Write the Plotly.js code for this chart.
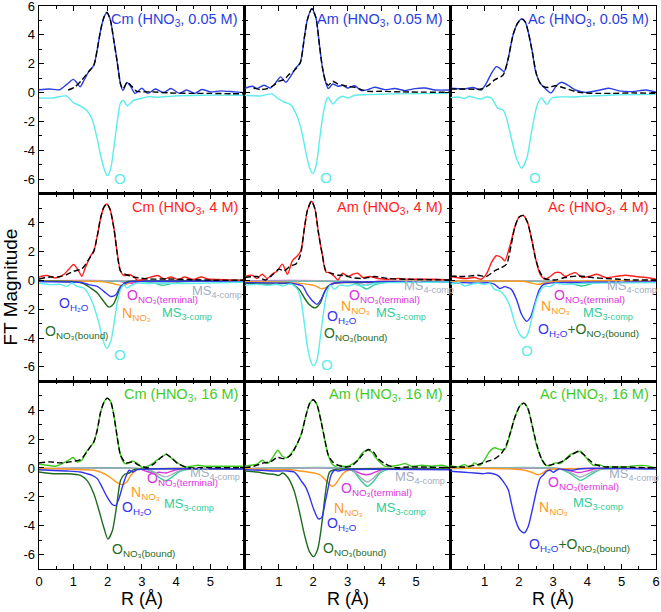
<!DOCTYPE html>
<html><head><meta charset="utf-8">
<script src="https://cdn.plot.ly/plotly-3.0.1.min.js"></script>
<style>html,body{margin:0;padding:0;background:#fff}</style>
</head><body><div id="chart" style="width:661px;height:612px"></div>
<script>
// ---------------- Row 1: HNO3 0.05 M ----------------
const cm005_expR=[0,0.3,0.6,0.8,1.0,1.1,1.2,1.3,1.45,1.6,1.7,1.8,1.9,1.98,2.08,2.18,2.28,2.38,2.45,2.57,2.68,2.8,3.0,3.17,3.4,3.63,3.85,4.1,4.3,4.55,4.75,5.0,5.3,5.7,6.0];
const cm005_exp=[0.2,0.25,0.2,0.55,0.92,0.7,0.4,0.8,1.45,1.9,3.0,4.35,5.25,5.55,5.05,3.65,2.15,0.55,0.15,0.7,0.4,-0.05,0.3,-0.05,0.25,0.0,0.28,-0.05,0.18,-0.05,0.22,0.05,0.12,0.05,0.0];
const cm005_fitR=[0.85,1.05,1.25,1.45,1.6,1.7,1.8,1.9,1.98,2.08,2.18,2.28,2.38,2.45,2.57,2.7,2.85,3.0,3.3,3.8,4.4,5.0,5.6,6.0];
const cm005_fit=[0.18,0.4,0.87,1.45,1.9,3.0,4.35,5.25,5.55,5.05,3.65,2.15,0.6,0.25,0.72,0.45,0.08,0.05,0.05,-0.02,-0.05,-0.05,-0.08,-0.08];
const cm005_OR=[0,0.4,0.8,1.0,1.2,1.4,1.55,1.7,1.8,1.9,2.0,2.09,2.19,2.28,2.38,2.46,2.58,2.73,2.87,3.02,3.22,3.46,3.95,4.74,6.0];
const cm005_O=[-0.37,-0.37,-0.23,-0.69,-0.92,-1.26,-1.84,-3.22,-4.37,-5.29,-5.75,-5.29,-3.68,-2.07,-0.69,-0.55,-0.92,-0.57,-0.46,-0.37,-0.28,-0.32,-0.23,-0.18,-0.18];

const am005_expR=[0,0.22,0.36,0.56,0.75,0.9,1.05,1.2,1.34,1.49,1.62,1.74,1.83,1.96,2.08,2.18,2.27,2.37,2.44,2.57,2.72,2.86,3.01,3.21,3.4,3.6,3.79,4.09,4.38,4.68,4.97,5.26,5.56,6.0];
const am005_exp=[0.28,0.44,0.28,0.51,0.32,0.67,1.09,0.72,1.13,1.71,2.06,3.79,5.06,5.82,5.17,3.33,1.71,0.67,0.28,0.6,0.44,0.51,0.32,0.48,0.14,0.21,0.37,0.21,0.28,0.14,0.28,0.32,0.18,0.18];
const am005_fitR=[0.26,0.46,0.66,0.85,1.0,1.15,1.29,1.44,1.62,1.74,1.83,1.96,2.08,2.18,2.27,2.37,2.44,2.57,2.72,2.86,3.01,3.21,3.4,3.6,3.99,4.58,6.0];
const am005_fit=[0.32,0.21,0.28,0.51,0.79,0.9,1.25,1.52,2.06,3.79,5.06,5.82,5.17,3.33,1.71,0.7,0.51,0.79,0.6,0.51,0.44,0.37,0.21,0.09,0.09,0.05,0.02];
const am005_OR=[0,0.46,0.8,0.95,1.15,1.34,1.49,1.64,1.78,1.88,1.98,2.08,2.18,2.27,2.37,2.44,2.57,2.72,2.86,3.01,3.21,3.6,4.28,6.0];
const am005_O=[-0.18,-0.23,-0.09,-0.37,-0.65,-0.83,-1.41,-2.45,-4.06,-5.1,-5.61,-5.1,-3.37,-1.76,-0.6,-0.32,-0.79,-0.42,-0.25,-0.37,-0.18,-0.14,-0.09,-0.05];

const ac005_expR=[0,0.41,0.66,0.9,1.05,1.2,1.34,1.44,1.57,1.69,1.83,1.96,2.08,2.18,2.27,2.39,2.49,2.62,2.76,2.94,3.11,3.25,3.45,3.65,3.94,4.33,4.63,4.92,5.31,5.71,6.0];
const ac005_exp=[0.3,0.25,0.35,0.18,0.65,1.34,1.8,1.69,1.45,2.38,4.0,4.8,5.1,4.92,4.23,2.84,1.45,0.65,0.3,-0.02,0.53,0.72,0.48,0.18,0.02,0.16,0.3,0.12,0.07,0.18,0.02];
const ac005_fitR=[0,0.41,0.9,1.1,1.29,1.54,1.69,1.83,1.96,2.08,2.18,2.27,2.39,2.52,2.67,2.86,3.06,3.35,3.75,4.24,4.73,5.31,6.0];
const ac005_fit=[0.25,0.25,0.25,0.48,0.88,1.22,2.38,4.0,4.8,5.1,4.92,4.23,2.84,1.22,0.48,0.35,0.48,0.3,0.02,-0.05,-0.05,-0.02,-0.05];
const ac005_OR=[0,0.22,0.41,0.56,0.75,0.9,1.05,1.2,1.39,1.54,1.64,1.78,1.93,2.08,2.23,2.37,2.52,2.65,2.81,2.96,3.16,3.55,3.94,4.73,6.0];
const ac005_O=[-0.35,-0.3,-0.39,-0.25,-0.39,-0.44,-0.3,-0.39,-1.09,-1.2,-1.78,-3.16,-4.55,-5.24,-4.55,-2.7,-0.97,-0.35,-0.81,-0.39,-0.3,-0.3,-0.25,-0.16,-0.12];

// ---------------- Row 2: HNO3 4 M ----------------
const cm4_expR=[0,0.23,0.47,0.72,0.86,1.01,1.16,1.25,1.35,1.5,1.6,1.7,1.79,1.89,1.98,2.07,2.19,2.28,2.38,2.48,2.63,2.77,2.87,3.17,3.46,3.66,3.85,4.05,4.25,4.49,4.74,4.93,5.23,5.72,6.0];
const cm4_exp=[0.23,0.33,0.16,0.4,0.74,1.09,0.63,0.28,0.86,1.67,2.02,3.07,4.23,5.05,5.28,4.93,3.53,1.91,0.63,0.33,0.4,0.23,0.0,0.16,0.33,0.09,0.23,0.05,0.23,0.05,0.23,0.09,0.05,0.0,0.0];
const cm4_fitR=[0,0.32,0.57,0.81,1.01,1.25,1.45,1.6,1.7,1.79,1.89,1.98,2.07,2.19,2.28,2.38,2.53,2.77,3.17,3.75,4.34,5.23,6.0];
const cm4_fit=[0.09,0.23,0.23,0.4,0.63,0.79,1.44,2.02,3.07,4.23,5.05,5.28,4.93,3.53,1.91,0.63,0.4,0.23,0.09,0.09,0.05,0.0,0.0];
const cm4_h2oR=[0,0.81,1.21,1.45,1.7,1.89,2.09,2.24,2.38,2.53,2.68,3.26,6.0];
const cm4_h2o=[-0.09,-0.12,-0.14,-0.3,-0.42,-0.77,-1.12,-1.0,-0.42,-0.19,-0.09,-0.07,-0.05];
const cm4_bndR=[0,1.01,1.3,1.5,1.7,1.89,2.04,2.19,2.33,2.48,2.63,3.26,6.0];
const cm4_bnd=[-0.07,-0.09,-0.23,-0.53,-0.88,-1.47,-1.86,-1.58,-0.77,-0.23,-0.07,-0.05,-0.02];
const cm4_nR=[0,1.79,2.09,2.28,2.43,2.58,2.77,3.26,6.0];
const cm4_n=[-0.05,-0.09,-0.19,-0.3,-0.37,-0.23,-0.07,-0.05,-0.02];
const cm4_termR=[0,2.3,2.6,2.75,2.95,3.3,3.6,3.9,6.0];
const cm4_term=[-0.03,-0.05,-0.18,-0.2,-0.08,-0.06,-0.12,-0.05,-0.02];
const cm4_msR=[0,3.0,3.3,3.6,3.9,4.3,6.0];
const cm4_ms3=[-0.08,-0.08,-0.15,-0.35,-0.2,-0.08,-0.05];
const cm4_ms4=[-0.05,-0.05,-0.1,-0.22,-0.12,-0.05,-0.03];
const cm4_OR=[0,0.32,0.62,0.81,0.96,1.11,1.3,1.45,1.6,1.75,1.84,1.97,2.09,2.19,2.28,2.38,2.48,2.56,2.68,2.87,3.17,3.56,3.95,6.0];
const cm4_O=[-0.19,-0.3,-0.28,-0.42,-0.19,-0.42,-0.53,-1.0,-1.81,-2.98,-3.91,-4.72,-4.26,-2.98,-1.58,-0.65,-0.3,-0.53,-0.37,-0.19,-0.23,-0.19,-0.23,-0.14];

const am4_expR=[0,0.22,0.36,0.51,0.66,0.8,0.95,1.1,1.25,1.39,1.54,1.64,1.74,1.83,1.95,2.05,2.15,2.27,2.37,2.47,2.62,2.72,2.86,3.01,3.16,3.3,3.45,3.65,3.89,4.19,4.48,4.77,5.17,5.56,6.0];
const am4_exp=[0.26,0.35,0.12,0.42,0.12,0.42,0.65,1.12,0.42,1.35,1.7,2.05,3.56,4.84,5.47,4.95,3.33,1.7,0.58,0.53,0.26,0.02,0.49,0.26,0.42,0.49,0.19,0.26,0.12,0.07,0.12,0.07,0.07,0.07,0.02];
const am4_fitR=[0,0.36,0.61,0.8,1.0,1.15,1.34,1.49,1.62,1.74,1.83,1.95,2.05,2.15,2.27,2.37,2.52,2.72,2.91,3.11,3.4,3.79,4.19,4.77,6.0];
const am4_fit=[0.19,0.26,0.02,0.35,0.77,0.65,1.0,1.12,1.7,3.56,4.84,5.47,4.95,3.33,1.7,0.65,0.49,0.35,0.35,0.19,0.12,0.26,0.12,0.07,0.02];
const am4_h2oR=[0,1.34,1.54,1.69,1.83,1.98,2.11,2.23,2.37,2.52,2.72,6.0];
const am4_h2o=[-0.16,-0.21,-0.28,-0.4,-0.98,-1.44,-1.67,-1.33,-0.63,-0.28,-0.16,-0.12];
const am4_bndR=[0,0.85,1.34,1.44,1.59,1.74,1.88,2.05,2.21,2.32,2.44,2.57,2.81,6.0];
const am4_bnd=[-0.21,-0.26,-0.21,-0.35,-0.63,-1.21,-1.67,-1.91,-1.56,-0.86,-0.4,-0.23,-0.16,-0.12];
const am4_nR=[0,1.34,1.83,2.03,2.23,2.37,2.52,2.81,3.7,6.0];
const am4_n=[-0.09,-0.16,-0.28,-0.35,-0.58,-0.51,-0.28,-0.16,-0.09,-0.07];
const am4_termR=[0,2.4,2.7,3.0,3.3,3.6,3.9,6.0];
const am4_term=[-0.03,-0.05,-0.15,-0.12,-0.08,-0.18,-0.06,-0.03];
const am4_msR=[0,3.0,3.3,3.55,3.8,4.2,6.0];
const am4_ms3=[-0.1,-0.1,-0.25,-0.6,-0.3,-0.1,-0.08];
const am4_ms4=[-0.05,-0.05,-0.15,-0.35,-0.15,-0.05,-0.05];
const am4_OR=[0,0.36,0.66,0.95,1.1,1.25,1.39,1.54,1.64,1.74,1.83,1.93,2.01,2.11,2.21,2.3,2.4,2.5,2.62,2.76,3.01,3.21,3.4,3.79,4.28,6.0];
const am4_O=[-0.35,-0.28,-0.35,-0.28,-0.4,-0.28,-0.28,-0.63,-1.33,-2.95,-4.58,-5.63,-5.93,-5.51,-3.88,-2.26,-0.86,-0.35,-0.63,-0.35,-0.4,-0.28,-0.4,-0.21,-0.16,-0.12];

const ac4_expR=[0,0.41,0.71,0.9,1.05,1.2,1.34,1.49,1.59,1.74,1.88,2.0,2.13,2.25,2.37,2.49,2.62,2.76,2.91,3.06,3.21,3.35,3.5,3.65,3.84,4.04,4.28,4.53,4.82,5.12,5.41,5.71,6.0];
const ac4_exp=[0.26,0.12,0.19,0.07,0.42,1.23,1.7,1.58,1.35,2.4,3.67,4.37,4.49,4.02,2.86,1.47,0.42,0.07,0.26,0.53,0.53,0.26,0.42,0.53,0.19,0.26,0.42,0.19,0.26,0.35,0.26,0.19,0.07];
const ac4_fitR=[0,0.41,0.8,1.05,1.29,1.49,1.64,1.78,1.88,2.0,2.13,2.25,2.37,2.49,2.62,2.76,3.06,3.35,3.75,4.14,4.53,4.92,5.31,6.0];
const ac4_fit=[0.3,0.26,0.35,0.26,0.65,0.88,1.12,2.51,3.67,4.37,4.49,4.02,2.86,1.47,0.53,0.12,0.02,0.19,0.3,0.19,0.12,0.07,0.02,0.02];
const ac4_combR=[0,0.41,0.8,1.1,1.29,1.44,1.59,1.78,1.93,2.08,2.23,2.35,2.47,2.6,2.72,2.86,3.06,6.0];
const ac4_comb=[-0.21,-0.16,-0.21,-0.16,-0.28,-0.58,-0.44,-0.63,-1.33,-2.37,-2.84,-2.49,-1.56,-0.63,-0.28,-0.21,-0.16,-0.12];
const ac4_nR=[0,2.1,2.3,2.55,2.75,3.0,6.0];
const ac4_n=[-0.05,-0.07,-0.15,-0.28,-0.2,-0.08,-0.05];
const ac4_termR=[0,2.5,2.8,3.1,3.5,3.8,4.1,6.0];
const ac4_term=[-0.03,-0.05,-0.12,-0.06,-0.05,-0.15,-0.06,-0.03];
const ac4_msR=[0,3.2,3.5,3.84,4.1,4.4,6.0];
const ac4_ms3=[-0.1,-0.1,-0.2,-0.4,-0.25,-0.1,-0.08];
const ac4_ms4=[-0.05,-0.05,-0.1,-0.22,-0.12,-0.05,-0.05];
const ac4_OR=[0,0.26,0.41,0.61,0.8,1.0,1.15,1.29,1.44,1.59,1.74,1.88,2.03,2.16,2.27,2.39,2.52,2.67,2.76,2.91,3.06,3.35,3.94,6.0];
const ac4_O=[-0.28,-0.16,-0.4,-0.28,-0.21,-0.28,-0.21,-0.63,-0.74,-1.09,-1.79,-2.95,-3.77,-4.0,-3.65,-2.49,-1.33,-0.58,-0.4,-0.44,-0.21,-0.28,-0.21,-0.16];

// ---------------- Row 3: HNO3 16 M ----------------
const cm16_expR=[0,0.23,0.47,0.72,0.86,1.0,1.11,1.25,1.38,1.5,1.6,1.7,1.79,1.89,1.99,2.09,2.19,2.28,2.38,2.48,2.58,2.73,2.87,3.02,3.17,3.31,3.46,3.61,3.71,3.8,3.95,4.1,4.25,4.44,4.64,4.83,5.13,5.52,6.0];
const cm16_exp=[0.26,0.19,0.12,0.35,0.53,0.72,0.42,0.53,1.12,1.47,1.81,2.63,3.79,4.53,4.84,4.6,3.56,2.16,0.88,0.35,0.3,0.49,0.3,0.02,0.12,0.3,0.58,0.81,0.95,0.81,0.53,0.26,0.07,0.12,0.19,0.12,0.12,0.12,0.12];
const cm16_fitR=[0,0.32,0.62,0.91,1.21,1.4,1.5,1.6,1.7,1.79,1.89,1.99,2.09,2.19,2.28,2.38,2.53,2.73,2.92,3.17,3.36,3.56,3.71,3.85,4.05,4.34,4.74,6.0];
const cm16_fit=[0.35,0.42,0.35,0.42,0.58,1.12,1.47,1.81,2.63,3.79,4.53,4.84,4.6,3.56,2.16,0.88,0.35,0.42,0.19,0.02,0.3,0.72,0.95,0.72,0.3,0.02,0.02,0.02];
const cm16_bndR=[0,0.42,0.81,1.21,1.4,1.6,1.75,1.89,2.01,2.14,2.26,2.38,2.5,2.63,2.77,3.26,6.0];
const cm16_bnd=[-0.28,-0.4,-0.4,-0.51,-0.86,-1.79,-2.95,-4.12,-4.93,-4.35,-2.72,-0.86,-0.44,-0.35,-0.12,-0.05,-0.05];
const cm16_h2oR=[0,0.81,1.21,1.4,1.55,1.7,1.84,1.99,2.14,2.24,2.33,2.43,2.53,2.63,2.73,2.87,3.26,6.0];
const cm16_h2o=[-0.12,-0.21,-0.28,-0.4,-0.51,-0.74,-1.33,-2.02,-2.53,-2.6,-2.14,-1.33,-0.63,-0.16,-0.28,-0.12,-0.07,-0.07];
const cm16_nR=[0,1.3,1.6,1.79,1.99,2.19,2.33,2.43,2.56,2.68,2.87,3.26,6.0];
const cm16_n=[0,-0.12,-0.16,-0.28,-0.51,-0.86,-1.09,-1.16,-0.98,-0.51,-0.12,-0.05,-0.05];
const cm16_termR=[0,2.9,3.1,3.3,3.5,3.7,3.9,4.1,6.0];
const cm16_term=[-0.05,-0.05,-0.2,-0.35,-0.3,-0.35,-0.2,-0.08,-0.05];
const cm16_msR=[0,3.0,3.3,3.5,3.7,3.9,4.1,4.4,6.0];
const cm16_ms3=[-0.05,-0.05,-0.25,-0.65,-0.88,-0.6,-0.25,-0.08,-0.05];
const cm16_ms4=[-0.05,-0.05,-0.2,-0.45,-0.62,-0.42,-0.18,-0.06,-0.05];

const am16_expR=[0,0.17,0.36,0.51,0.66,0.8,0.97,1.1,1.25,1.39,1.54,1.66,1.78,1.9,2.0,2.11,2.23,2.34,2.44,2.54,2.64,2.76,2.86,3.01,3.16,3.3,3.4,3.55,3.7,3.79,3.94,4.09,4.28,4.48,4.68,4.87,5.17,5.46,5.75,6.0];
const am16_exp=[0.12,0.19,0.26,0.53,0.3,0.65,1.23,0.81,0.72,1.12,1.7,2.4,3.56,4.49,4.72,4.37,3.21,1.93,0.88,0.3,0.12,0.19,0.12,0.12,0.3,0.53,0.95,1.23,1.12,0.81,0.42,0.12,0.12,0.19,0.3,0.12,0.19,0.12,0.19,0.02];
const am16_fitR=[0,0.26,0.56,0.75,0.95,1.15,1.34,1.49,1.66,1.78,1.9,2.0,2.11,2.23,2.34,2.44,2.57,2.72,2.91,3.11,3.3,3.45,3.6,3.75,3.89,4.09,4.38,4.77,6.0];
const am16_fit=[0.02,0.12,0.35,0.42,0.72,0.65,0.88,1.47,2.4,3.56,4.49,4.72,4.37,3.21,1.93,0.88,0.42,0.19,0.07,0.12,0.53,0.95,1.28,1.12,0.65,0.3,0.02,0.07,0.02];
const am16_bndR=[0,0.36,0.66,0.85,1.0,1.1,1.25,1.44,1.59,1.74,1.88,2.01,2.13,2.25,2.34,2.42,2.48,2.62,6.0];
const am16_bnd=[-0.21,-0.28,-0.4,-0.44,-0.51,-0.35,-0.63,-1.56,-2.95,-4.58,-5.74,-6.14,-5.63,-3.88,-2.02,-0.74,-0.28,-0.12,-0.07];
const am16_h2oR=[0,0.46,0.85,1.25,1.44,1.54,1.64,1.78,1.88,2.01,2.15,2.25,2.34,2.44,2.52,2.62,2.72,2.91,6.0];
const am16_h2o=[-0.12,-0.16,-0.21,-0.21,-0.28,-0.51,-0.86,-1.33,-1.91,-2.84,-3.53,-3.42,-2.49,-1.33,-0.51,-0.16,-0.21,-0.12,-0.12];
const am16_nR=[0,0.85,1.34,1.83,2.03,2.18,2.32,2.44,2.54,2.64,2.74,2.86,3.01,3.3,6.0];
const am16_n=[-0.05,-0.12,-0.12,-0.28,-0.35,-0.47,-0.74,-1.05,-1.28,-1.14,-0.81,-0.4,-0.16,-0.07,-0.05];
const am16_termR=[0,3.0,3.2,3.4,3.55,3.7,3.9,4.1,6.0];
const am16_term=[-0.05,-0.05,-0.2,-0.4,-0.47,-0.4,-0.2,-0.07,-0.05];
const am16_msR=[0,3.0,3.2,3.4,3.58,3.75,3.95,4.2,6.0];
const am16_ms3=[-0.05,-0.05,-0.3,-0.9,-1.28,-0.95,-0.35,-0.08,-0.05];
const am16_ms4=[-0.05,-0.05,-0.25,-0.7,-0.98,-0.72,-0.25,-0.06,-0.05];

const ac16_expR=[0,0.22,0.41,0.56,0.71,0.85,1.0,1.15,1.29,1.44,1.59,1.74,1.88,2.03,2.15,2.27,2.39,2.52,2.67,2.76,2.91,3.06,3.21,3.35,3.5,3.65,3.79,3.89,4.04,4.19,4.33,4.53,4.82,5.12,5.41,5.71,6.0];
const ac16_exp=[0.16,0.07,0.23,0.07,0.35,0.16,0.58,1.16,1.4,1.28,1.28,2.33,3.49,4.3,4.49,4.07,2.91,1.51,0.58,0.23,0.16,0.35,0.3,0.58,0.93,1.05,1.16,0.93,0.47,0.16,0.23,0.07,0.07,0.07,0.16,0.16,0.0];
const ac16_fitR=[0,0.41,0.8,1.1,1.29,1.49,1.64,1.78,1.88,2.03,2.15,2.27,2.39,2.52,2.67,2.81,2.96,3.16,3.35,3.55,3.75,3.89,4.04,4.24,4.53,4.92,6.0];
const ac16_fit=[0.07,0.07,0.23,0.47,0.63,1.0,1.63,2.67,3.49,4.3,4.49,4.07,2.91,1.63,0.58,0.16,0.23,0.35,0.58,0.93,1.16,0.93,0.58,0.23,0.07,0.07,0.0];
const ac16_combR=[0,0.41,0.71,0.95,1.1,1.25,1.39,1.54,1.69,1.78,1.9,2.03,2.16,2.27,2.39,2.52,2.62,2.72,2.81,2.91,3.01,3.16,3.35,3.55,3.75,4.24,6.0];
const ac16_comb=[-0.23,-0.3,-0.35,-0.4,-0.35,-0.4,-0.53,-0.93,-1.51,-2.44,-3.6,-4.3,-4.49,-4.07,-2.91,-1.51,-0.7,-0.47,-0.23,-0.16,-0.3,-0.07,-0.12,-0.16,-0.07,-0.02,-0.07];
const ac16_nR=[0,1.78,2.18,2.37,2.55,2.69,2.81,3.06,6.0];
const ac16_n=[0,-0.07,-0.16,-0.3,-0.47,-0.35,-0.16,-0.07,-0.02];
const ac16_termR=[0,3.2,3.5,3.75,4.0,4.3,6.0];
const ac16_term=[-0.03,-0.05,-0.2,-0.32,-0.2,-0.05,-0.03];
const ac16_msR=[0,3.2,3.5,3.8,4.1,4.4,6.0];
const ac16_ms3=[-0.05,-0.07,-0.4,-0.86,-0.45,-0.1,-0.05];
const ac16_ms4=[-0.05,-0.06,-0.3,-0.63,-0.3,-0.08,-0.05];

// tick labels
const xTickVals=[0,1,2,3,4,5,6];
const xTickText=[['0','1','2','3','4','5',''],['','1','2','3','4','5',''],['','1','2','3','4','5','6']];
const yTickVals=[-6,-4,-2,0,2,4,6];
const yTickTextTop=['-6','-4','-2','0','2','4','6'];
const yTickTextOther=['-6','-4','-2','0','2','4',''];

// ---------------- styling ----------------
const FONT='Liberation Sans, Arial, sans-serif';
const C={blue:'#2a3fe0',red:'#ff1e1e',green:'#3fcc1f',cyan:'#5cecec',dkgreen:'#1f6b1f',orange:'#ff9a1f',
  magenta:'#dd33dd',teal:'#33cc95',gray:'#a2adbd',h2o:'#3434ee'};

const traces=[];
function ax(k){return k===1?'':String(k);}
function line(k,x,y,color,dash,width){
  traces.push({type:'scatter',mode:'lines',x:x,y:y,xaxis:'x'+ax(k),yaxis:'y'+ax(k),
    line:{color:color,width:width||1.4,dash:dash||'solid',shape:'spline',smoothing:0.7},
    hoverinfo:'skip',showlegend:false});
}
const DASH='6px,3px';
// Row 1
line(1,cm005_OR,cm005_O,C.cyan);line(1,cm005_expR,cm005_exp,C.blue);line(1,cm005_fitR,cm005_fit,'#000',DASH);
line(2,am005_OR,am005_O,C.cyan);line(2,am005_expR,am005_exp,C.blue);line(2,am005_fitR,am005_fit,'#000',DASH);
line(3,ac005_OR,ac005_O,C.cyan);line(3,ac005_expR,ac005_exp,C.blue);line(3,ac005_fitR,ac005_fit,'#000',DASH);
// Row 2
line(4,cm4_termR,cm4_term,C.magenta);line(4,cm4_msR,cm4_ms3,C.teal);line(4,cm4_msR,cm4_ms4,C.gray);
line(4,cm4_nR,cm4_n,C.orange);line(4,cm4_bndR,cm4_bnd,C.dkgreen);line(4,cm4_h2oR,cm4_h2o,C.h2o);
line(4,cm4_OR,cm4_O,C.cyan);line(4,cm4_expR,cm4_exp,C.red);line(4,cm4_fitR,cm4_fit,'#000',DASH);
line(5,am4_termR,am4_term,C.magenta);line(5,am4_msR,am4_ms3,C.teal);line(5,am4_msR,am4_ms4,C.gray);
line(5,am4_nR,am4_n,C.orange);line(5,am4_bndR,am4_bnd,C.dkgreen);line(5,am4_h2oR,am4_h2o,C.h2o);
line(5,am4_OR,am4_O,C.cyan);line(5,am4_expR,am4_exp,C.red);line(5,am4_fitR,am4_fit,'#000',DASH);
line(6,ac4_termR,ac4_term,C.magenta);line(6,ac4_msR,ac4_ms3,C.teal);line(6,ac4_msR,ac4_ms4,C.gray);
line(6,ac4_nR,ac4_n,C.orange);line(6,ac4_combR,ac4_comb,C.h2o);
line(6,ac4_OR,ac4_O,C.cyan);line(6,ac4_expR,ac4_exp,C.red);line(6,ac4_fitR,ac4_fit,'#000',DASH);
// Row 3
line(7,cm16_termR,cm16_term,C.magenta);line(7,cm16_msR,cm16_ms3,C.teal);line(7,cm16_msR,cm16_ms4,C.gray);
line(7,cm16_nR,cm16_n,C.orange);line(7,cm16_bndR,cm16_bnd,C.dkgreen);line(7,cm16_h2oR,cm16_h2o,C.h2o);
line(7,cm16_expR,cm16_exp,C.green);line(7,cm16_fitR,cm16_fit,'#000',DASH);
line(8,am16_termR,am16_term,C.magenta);line(8,am16_msR,am16_ms3,C.teal);line(8,am16_msR,am16_ms4,C.gray);
line(8,am16_nR,am16_n,C.orange);line(8,am16_bndR,am16_bnd,C.dkgreen);line(8,am16_h2oR,am16_h2o,C.h2o);
line(8,am16_expR,am16_exp,C.green);line(8,am16_fitR,am16_fit,'#000',DASH);
line(9,ac16_termR,ac16_term,C.magenta);line(9,ac16_msR,ac16_ms3,C.teal);line(9,ac16_msR,ac16_ms4,C.gray);
line(9,ac16_nR,ac16_n,C.orange);line(9,ac16_combR,ac16_comb,C.h2o);
line(9,ac16_expR,ac16_exp,C.green);line(9,ac16_fitR,ac16_fit,'#000',DASH);

// ---------------- annotations ----------------
const ann=[];
function lab(k,x,y,text,color,size){
  ann.push({xref:'x'+ax(k),yref:'y'+ax(k),x:x,y:y,text:text,showarrow:false,xanchor:'left',yanchor:'middle',
    font:{family:FONT,size:size||14,color:color}});
}
function ptitle(k,text,color){
  ann.push({xref:'x'+ax(k)+' domain',yref:'y'+ax(k)+' domain',x:1,y:1,xshift:-5,yshift:-3,xanchor:'right',yanchor:'top',
    text:text,showarrow:false,font:{family:FONT,size:14.5,color:color}});
}
const metals=['Cm','Am','Ac'];
const concs=['0.05 M','4 M','16 M'];
const tcol=[C.blue,C.red,C.green];
for(let r=0;r<3;r++)for(let c=0;c<3;c++){
  ptitle(r*3+c+1,metals[c]+' (HNO<sub>3</sub>, '+concs[r]+')',tcol[r]);
}
const sOH2O='O<sub>H₂O</sub>';
const sOterm='O<sub>NO₃(terminal)</sub>';
const sObnd='O<sub>NO₃(bound)</sub>';
const sN='N<sub>NO₃</sub>';
const sMS3='MS<sub>3-comp</sub>';
const sMS4='MS<sub>4-comp</sub>';
const sComb='<span style="color:'+C.h2o+'">O<sub>H₂O</sub></span><span style="color:'+C.dkgreen+'">+O<sub>NO₃(bound)</sub></span>';
const MSZ=13;
// row 1
lab(1,2.14,-5.98,'O',C.cyan,15);lab(2,2.15,-5.91,'O',C.cyan,15);lab(3,2.25,-5.89,'O',C.cyan,15);
// row 2
lab(4,0.52,-1.63,sOH2O,C.h2o);lab(4,2.51,-1.12,sOterm,C.magenta);lab(4,4.41,-0.78,sMS4,C.gray,MSZ);
lab(4,2.35,-2.33,sN,C.orange);lab(4,3.53,-2.33,sMS3,C.teal,MSZ);lab(4,0.13,-3.56,sObnd,C.dkgreen);lab(4,2.14,-5.12,'O',C.cyan,15);
lab(5,4.58,-0.45,sMS4,C.gray,MSZ);lab(5,2.99,-1.12,sOterm,C.magenta);lab(5,2.74,-1.85,sN,C.orange);
lab(5,3.77,-2.3,sMS3,C.teal,MSZ);lab(5,2.35,-2.55,sOH2O,C.h2o);lab(5,2.27,-3.7,sObnd,C.dkgreen);lab(5,2.16,-5.86,'O',C.cyan,15);
lab(6,4.51,-0.42,sMS4,C.gray,MSZ);lab(6,2.98,-1.08,sOterm,C.magenta);lab(6,2.6,-1.85,sN,C.orange);
lab(6,3.82,-2.3,sMS3,C.teal,MSZ);lab(6,2.49,-3.47,sComb,C.h2o);lab(6,2.01,-4.88,'O',C.cyan,15);
// row 3
lab(7,4.36,-0.35,sMS4,C.gray,MSZ);lab(7,3.09,-0.8,sOterm,C.magenta);lab(7,2.63,-1.75,sN,C.orange);
lab(7,3.6,-2.53,sMS3,C.teal,MSZ);lab(7,2.36,-2.8,sOH2O,C.h2o);lab(7,2.07,-5.7,sObnd,C.dkgreen);
lab(8,4.33,-0.68,sMS4,C.gray,MSZ);lab(8,2.74,-1.48,sOterm,C.magenta);lab(8,2.54,-2.84,sN,C.orange);
lab(8,3.77,-2.84,sMS3,C.teal,MSZ);lab(8,2.34,-3.88,sOH2O,C.h2o);lab(8,2.23,-5.63,sObnd,C.dkgreen);
lab(9,4.56,-0.45,sMS4,C.gray,MSZ);lab(9,2.78,-1.02,sOterm,C.magenta);lab(9,3.53,-2.49,sMS3,C.teal,MSZ);
lab(9,2.52,-2.79,sN,C.orange);lab(9,2.25,-5.35,sComb,C.h2o);

// axis titles
for(let c=0;c<3;c++){
  ann.push({xref:'paper',yref:'paper',x:(c+0.5)/3,y:-0.053,xanchor:'center',yanchor:'middle',showarrow:false,
    text:'R (Å)',font:{family:FONT,size:18,color:'#000'}});
}
ann.push({xref:'paper',yref:'paper',x:-0.047,y:0.5,xanchor:'center',yanchor:'middle',textangle:-90,showarrow:false,
  text:'FT Magnitude',font:{family:FONT,size:19,color:'#000'}});

// ---------------- layout ----------------
const layout={width:661,height:612,margin:{l:39,r:5,t:6,b:43},paper_bgcolor:'#fff',plot_bgcolor:'#fff',
  showlegend:false,annotations:ann,font:{family:FONT,size:13,color:'#000'}};
for(let k=1;k<=9;k++){
  const r=Math.floor((k-1)/3), c=(k-1)%3;
  layout['xaxis'+ax(k)]={domain:[c/3,(c+1)/3],anchor:'y'+ax(k),range:[0,6],showline:true,linecolor:'#000',linewidth:1.3,
    mirror:'ticks',ticks:'inside',ticklen:5,tickwidth:1,tickcolor:'#000',tickmode:'array',tickvals:xTickVals,ticktext:xTickText[c],
    showticklabels:r===2,tickfont:{family:FONT,size:13,color:'#000'},showgrid:false,zeroline:false,ticklabeloverflow:'allow',
    minor:{ticks:'inside',ticklen:3,tickwidth:1,tickcolor:'#000',dtick:0.5,tick0:0,showgrid:false}};
  layout['yaxis'+ax(k)]={domain:[(2-r)/3,(3-r)/3],anchor:'x'+ax(k),range:[-7,6],showline:true,linecolor:'#000',linewidth:1.3,
    mirror:'ticks',ticks:'inside',ticklen:5,tickwidth:1,tickcolor:'#000',tickmode:'array',tickvals:yTickVals,
    ticktext:r===0?yTickTextTop:yTickTextOther,showticklabels:c===0,tickfont:{family:FONT,size:13,color:'#000'},
    showgrid:false,zeroline:false,ticklabeloverflow:'allow',
    minor:{ticks:'inside',ticklen:3,tickwidth:1,tickcolor:'#000',dtick:1,tick0:0,showgrid:false}};
}
Plotly.newPlot('chart',traces,layout,{staticPlot:true,displayModeBar:false});
</script></body></html>
